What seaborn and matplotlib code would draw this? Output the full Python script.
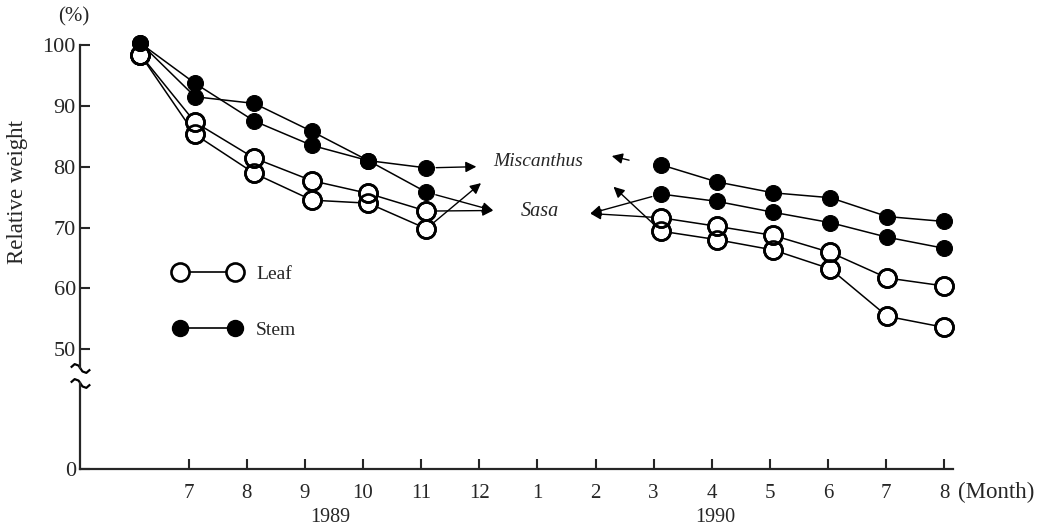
import pandas as pd
import matplotlib
matplotlib.use("Agg")
import matplotlib.pyplot as plt
import matplotlib.transforms as mtransforms
from matplotlib.lines import Line2D
import seaborn as sns

# months counted from Jan 1989 = 1, so Jan 1990 = 13
x_1989 = [6.17, 7.11, 8.13, 9.12, 10.09, 11.09]
x_1990 = [15.13, 16.09, 17.06, 18.04, 19.02, 19.99]

misc_stem_1989 = [100.3, 91.5, 90.4, 85.8, 81.0, 79.8]
sasa_stem_1989 = [100.3, 93.7, 87.5, 83.5, 81.0, 75.8]
misc_leaf_1989 = [98.4, 85.3, 78.9, 74.5, 74.0, 69.8]
sasa_leaf_1989 = [98.4, 87.3, 81.4, 77.7, 75.6, 72.7]

misc_stem_1990 = [80.3, 77.5, 75.7, 74.9, 71.8, 71.0]
sasa_stem_1990 = [75.5, 74.3, 72.5, 70.8, 68.4, 66.6]
misc_leaf_1990 = [69.4, 68.0, 66.3, 63.2, 55.4, 53.6]
sasa_leaf_1990 = [71.6, 70.2, 68.7, 65.9, 61.7, 60.4]

tick_months = list(range(7, 21))
tick_labels = ["7", "8", "9", "10", "11", "12", "1", "2", "3", "4", "5", "6", "7", "8"]
y_ticks = [50, 60, 70, 80, 90, 100]

# species label arrows: (tail, head) in (month, %)
misc_arrows = [((11.09, 79.8), (11.95, 80.0)), ((11.09, 69.8), (12.03, 77.3)),
               ((14.74, 80.7), (14.28, 81.75)), ((15.13, 69.4), (14.31, 76.7))]
sasa_arrows = [((11.09, 75.8), (12.24, 72.8)), ((11.09, 72.7), (12.24, 72.8)),
               ((15.13, 75.5), (13.91, 72.3)), ((15.13, 71.6), (13.91, 72.3))]

rows = []
for species, part, year, xs, ys in [
    ("Miscanthus", "Stem", 1989, x_1989, misc_stem_1989),
    ("Sasa", "Stem", 1989, x_1989, sasa_stem_1989),
    ("Miscanthus", "Leaf", 1989, x_1989, misc_leaf_1989),
    ("Sasa", "Leaf", 1989, x_1989, sasa_leaf_1989),
    ("Miscanthus", "Stem", 1990, x_1990, misc_stem_1990),
    ("Sasa", "Stem", 1990, x_1990, sasa_stem_1990),
    ("Miscanthus", "Leaf", 1990, x_1990, misc_leaf_1990),
    ("Sasa", "Leaf", 1990, x_1990, sasa_leaf_1990),
]:
    for x, y in zip(xs, ys):
        rows.append({"species": species, "part": part, "year": year, "month": x, "weight": y})
df = pd.DataFrame(rows)

sns.set_theme(style="ticks")
plt.rcParams["font.family"] = ["Liberation Serif", "DejaVu Serif"]
plt.rcParams["xtick.direction"] = "in"
plt.rcParams["ytick.direction"] = "in"

fig = plt.figure(figsize=(10.44, 5.28), dpi=100)
ax = fig.add_axes([0.0766, 0.303, 0.8362, 0.6117])
axb = fig.add_axes([0.0766, 0.1117, 0.8362, 0.1629])

for (species, part, year), g in df.groupby(["species", "part", "year"]):
    if part == "Leaf":
        sns.lineplot(data=g, x="month", y="weight", ax=ax, color="black", linewidth=1.1,
                     marker="o", markersize=13, markerfacecolor="white",
                     markeredgecolor="black", markeredgewidth=1.9, clip_on=False, zorder=2)
    else:
        sns.lineplot(data=g, x="month", y="weight", ax=ax, color="black", linewidth=1.1,
                     marker="o", markersize=11.5, markerfacecolor="black",
                     markeredgecolor="black", clip_on=False, zorder=3)

# redraw open circle outlines so overlapping rings both show
leaf = df[df["part"] == "Leaf"]
ax.plot(leaf["month"], leaf["weight"], linestyle="none", marker="o", markersize=13,
        markerfacecolor="none", markeredgecolor="black", markeredgewidth=1.9,
        clip_on=False, zorder=4)

arrow_kw = dict(arrowstyle="-|>", color="black", lw=1.0, mutation_scale=16,
                shrinkA=7, shrinkB=0)
for tail, head in misc_arrows + sasa_arrows:
    ax.annotate("", xy=head, xytext=tail, arrowprops=arrow_kw)
ax.text(13.02, 80.8, "Miscanthus", style="italic", fontsize=14, ha="center", va="center")
ax.text(13.05, 72.6, "Sasa", style="italic", fontsize=14.5, ha="center", va="center")

ax.set_xlim(5.13, 20.15)
ax.set_ylim(46.9, 100)
ax.set_yticks(y_ticks)
ax.set_yticklabels([str(v) for v in y_ticks])
ax.set_xticks([])
ax.set_xlabel("")
ax.set_ylabel("Relative weight", fontsize=16.5)
ax.yaxis.set_label_coords(-0.06, 0.545)
for s in ["top", "right", "bottom"]:
    ax.spines[s].set_visible(False)
ax.spines["left"].set_linewidth(1.6)
ax.tick_params(axis="y", length=7, width=1.5, pad=3, labelsize=16)

handles = [Line2D([], [], color="black", lw=1.2, marker="o", ms=13, mfc="white",
                  mec="black", mew=1.9),
           Line2D([], [], color="black", lw=1.2, marker="o", ms=11.5, mfc="black", mec="black")]
ax.legend(handles, ["Leaf", "Stem"], numpoints=2, frameon=False, fontsize=14,
          handlelength=3.4, labelspacing=2.0, loc="lower left",
          bbox_to_anchor=(0.088, 0.035))

axb.set_xlim(5.13, 20.15)
axb.set_ylim(0, 14.1)
axb.set_yticks([0])
axb.set_yticklabels(["0"])
axb.set_xticks(tick_months)
axb.set_xticklabels(tick_labels)
for s in ["top", "right"]:
    axb.spines[s].set_visible(False)
axb.spines["left"].set_linewidth(1.6)
axb.spines["bottom"].set_linewidth(1.6)
axb.tick_params(axis="y", length=7, width=1.5, pad=3, labelsize=16)
axb.tick_params(axis="x", length=7, width=1.5, pad=11, labelsize=15)
axb.set_facecolor("none")
ax.set_facecolor("none")

# axis break marks
tilde = [(-1, 0.1), (-0.6, 0.45), (-0.2, 0.3), (0.2, -0.3), (0.6, -0.45), (1, -0.1)]
ax.plot([0], [0], transform=ax.transAxes, marker=tilde, ms=14, mfc="none", mec="black",
        mew=1.6, clip_on=False)
axb.plot([0], [1], transform=axb.transAxes, marker=tilde, ms=14, mfc="none", mec="black",
         mew=1.6, clip_on=False)

trans = mtransforms.blended_transform_factory(axb.transData, axb.transAxes)
axb.text(9.44, -0.56, "1989", transform=trans, fontsize=14.5, ha="center", va="center")
axb.text(16.06, -0.56, "1990", transform=trans, fontsize=14.5, ha="center", va="center")
axb.text(20.24, -0.27, "(Month)", transform=trans, fontsize=16.5, ha="left", va="center")
fig.text(74 / 1044, 1 - 17 / 528, "(%)", fontsize=15, ha="center", va="center")

fig.savefig("out.png", dpi=100)
